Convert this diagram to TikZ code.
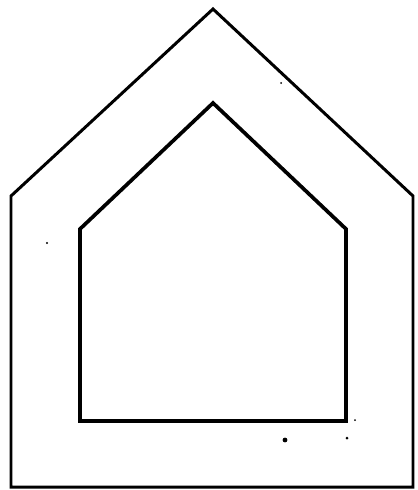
\documentclass[tikz,border=0pt]{standalone}
\usepackage{tikz}

\begin{document}
\begin{tikzpicture}[
  x=0.02cm, y=-0.02cm,
  outerwall/.style={draw=black, line width=1.7pt, line join=miter},
  innerwall/.style={draw=black, line width=2.1pt, line join=miter},
  speck/.style={fill=black},
]
  \useasboundingbox (0,0) rectangle (417,490);

  % ---- Outer house ----
  \coordinate (oapex) at (213,9);
  \coordinate (oleft) at (11,196);
  \coordinate (oright) at (413,196);
  \coordinate (obl) at (11,487);
  \coordinate (obr) at (413,487);
  \draw[outerwall] (oapex) -- (oright) -- (obr) -- (obl) -- (oleft) -- cycle;

  % ---- Inner house ----
  \coordinate (iapex) at (213,103);
  \coordinate (ileft) at (80,229);
  \coordinate (iright) at (346,229);
  \coordinate (ibl) at (80,421);
  \coordinate (ibr) at (346,421);
  \draw[innerwall] (iapex) -- (iright) -- (ibr) -- (ibl) -- (ileft) -- cycle;

  % ---- Specks ----
  \fill[speck] (281,83) circle (1);
  \fill[speck] (47,243) circle (1.1);
  \fill[speck] (285,440) circle (2.4);
  \fill[speck] (347,438) circle (1.5);
  \fill[speck] (355,420) circle (1);
\end{tikzpicture}
\end{document}
